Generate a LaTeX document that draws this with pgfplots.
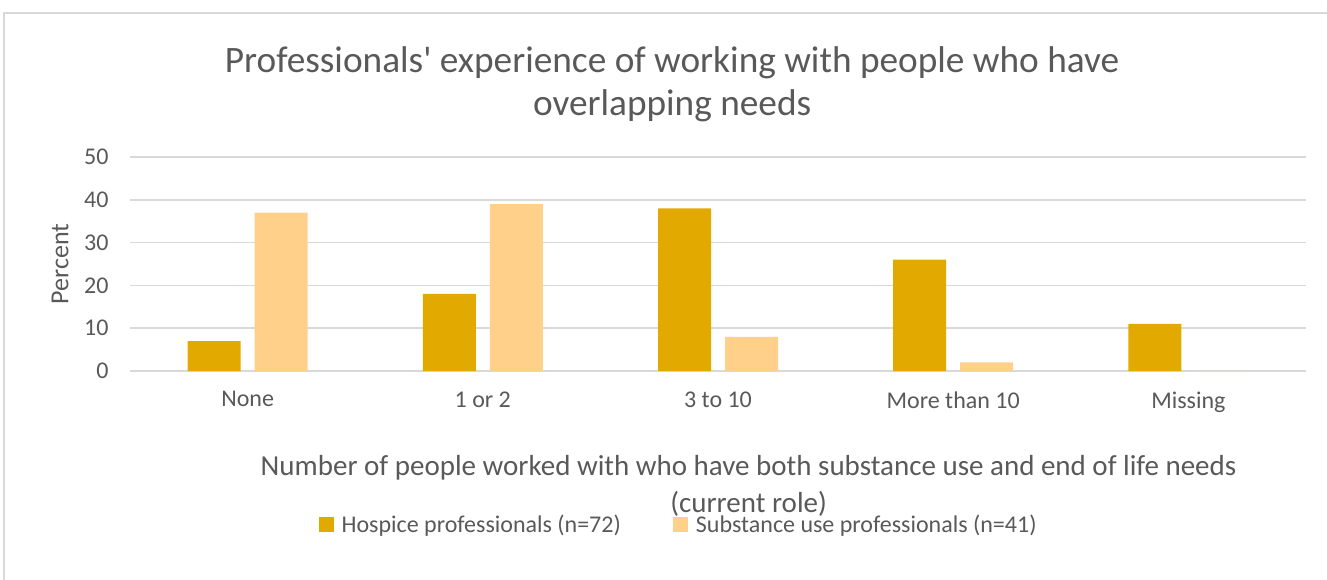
\documentclass[border=0pt]{standalone}
\usepackage{pgfplots}
\pgfplotsset{compat=1.18}
\usepackage{fontspec}
\setmainfont{Carlito}
\definecolor{txt}{HTML}{595959}
\definecolor{gridc}{HTML}{D9D9D9}
\definecolor{hosp}{HTML}{E2AA00}
\definecolor{subs}{HTML}{FFD08A}
\begin{document}
\begin{tikzpicture}
\path[use as bounding box] (0pt,0pt) rectangle (1327pt,579pt);
\draw[gridc, line width=1.5pt] (4pt,-5pt) -- (4pt,566pt) -- (1335pt,566pt);
\begin{axis}[
  at={(130pt,208pt)}, anchor=south west,
  scale only axis, width=1176pt, height=214pt,
  xmin=-0.5, xmax=4.5, ymin=0, ymax=50,
  ytick={0,10,...,50},
  xtick={0,1,2,3,4},
  xticklabels={None,1 or 2,3 to 10,More than 10,Missing},
  axis line style={draw=none},
  major tick length=0pt,
  ymajorgrids, xmajorgrids=false,
  grid style={draw=gridc, line width=1.5pt},
  /pgf/number format/assume math mode=true,
  tick label style={font=\fontsize{24}{28}\selectfont, text=txt},
  yticklabel style={xshift=-18pt},
  xticklabel style={yshift=-17pt},
  ylabel={Percent},
  ylabel style={font=\fontsize{26}{30}\selectfont, text=txt, at={(axis description cs:-0.0595,0.5)}, anchor=center},
  xlabel={Number of people worked with who have both substance use and end of life needs\\(current role)},
  xlabel style={font=\fontsize{29}{37}\selectfont, text=txt, align=center, at={(axis description cs:0.526,-0.535)}, anchor=center},
  title={Professionals\textquotesingle\ experience of working with people who have\\overlapping needs},
  title style={font=\fontsize{37.3}{43}\selectfont, text=txt, align=center, at={(axis description cs:0.461,1.31)}, anchor=center},
  ybar, bar width=53pt,
  legend style={at={(axis description cs:0.4665,-0.715)}, anchor=center, draw=none, fill=none,
    font=\fontsize{24}{28}\selectfont, text=txt, legend columns=2,
    /tikz/every odd column/.append style={column sep=6pt},
    /tikz/every even column/.append style={column sep=50pt}},
  legend image code/.code={\fill[#1] (0pt,-7.5pt) rectangle (15pt,7.5pt);},
  clip=false,
]
\addplot[draw=none, fill=hosp, bar shift=-33.5pt] coordinates {(0,7) (1,18) (2,38) (3,26) (4,11)};
\addplot[draw=none, fill=subs, bar shift=33.5pt] coordinates {(0,37) (1,39) (2,8) (3,2) (4,0)};
\legend{Hospice professionals (n=72), Substance use professionals (n=41)}
\end{axis}
\end{tikzpicture}
\end{document}
